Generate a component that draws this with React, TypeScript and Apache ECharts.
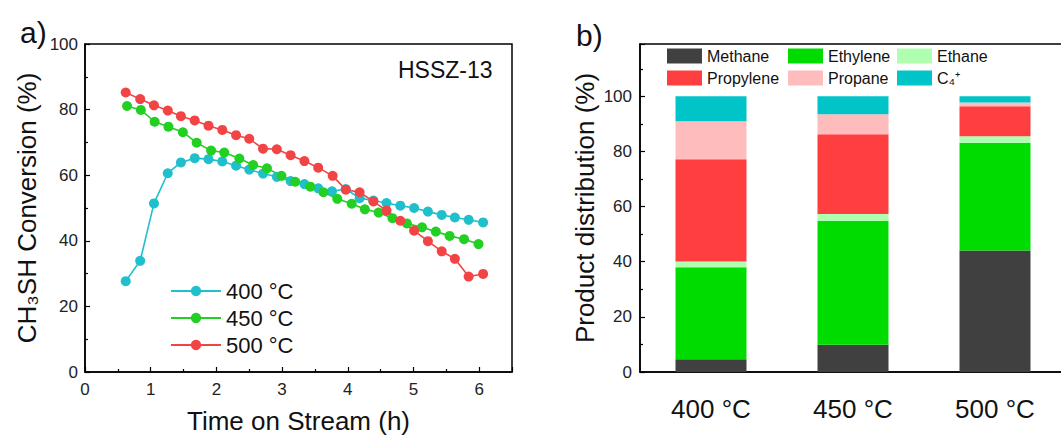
import React, { useEffect, useRef } from "react";
import * as echarts from "echarts";

const times400 = [0.62, 0.84, 1.05, 1.26, 1.46, 1.67, 1.88, 2.09, 2.3, 2.5, 2.71, 2.92, 3.13, 3.34, 3.55, 3.76, 3.97, 4.18, 4.39, 4.59, 4.8, 5.01, 5.22, 5.43, 5.63, 5.84, 6.06];
const conv400 = [27.7, 33.9, 51.4, 60.6, 63.9, 65.2, 64.9, 64.2, 62.9, 61.7, 60.5, 59.5, 58.2, 57.3, 56.0, 55.1, 55.8, 53.0, 52.3, 51.5, 50.7, 50.0, 48.9, 47.9, 47.1, 46.4, 45.6];
const times450 = [0.64, 0.85, 1.06, 1.27, 1.49, 1.7, 1.92, 2.12, 2.35, 2.56, 2.77, 2.99, 3.2, 3.43, 3.63, 3.84, 4.06, 4.26, 4.47, 4.68, 4.9, 5.13, 5.34, 5.55, 5.77, 5.99];
const conv450 = [81.1, 79.9, 76.3, 74.8, 73.1, 69.9, 67.5, 66.9, 65.1, 63.1, 62.1, 59.8, 58.0, 56.5, 54.8, 52.8, 51.3, 49.6, 48.6, 46.9, 45.3, 44.1, 42.8, 41.5, 40.5, 39.0];
const times500 = [0.62, 0.84, 1.05, 1.26, 1.46, 1.67, 1.88, 2.09, 2.3, 2.5, 2.71, 2.92, 3.13, 3.34, 3.55, 3.77, 3.97, 4.18, 4.39, 4.59, 4.8, 5.01, 5.22, 5.43, 5.63, 5.84, 6.06];
const conv500 = [85.2, 83.2, 81.3, 79.7, 78.0, 76.7, 75.1, 73.8, 72.2, 71.1, 68.1, 67.9, 66.1, 64.3, 62.3, 59.8, 55.6, 54.8, 52.0, 49.2, 46.1, 43.1, 39.9, 36.8, 34.5, 29.1, 29.9];

const lineNames = ["400 °C", "450 °C", "500 °C"];

const categories = ["400 °C", "450 °C", "500 °C"];
const methane = [4.6, 9.9, 44.1];
const ethylene = [33.4, 45.0, 39.0];
const ethane = [2.1, 2.4, 2.4];
const propylene = [37.1, 29.0, 10.9];
const propane = [13.8, 7.2, 1.4];
const c4plus = [9.0, 6.5, 2.2];
const productNames = ["Methane", "Ethylene", "Ethane", "Propylene", "Propane", "C₄⁺"];

const FONT = "Liberation Sans, Arial, Helvetica, sans-serif";

const zip = (t: number[], v: number[]) => t.map((x, i) => [x, v[i]]);

export default function App() {
  const ref = useRef<HTMLDivElement>(null);
  useEffect(() => {
    document.body.style.margin = "0";
    if (!ref.current) return;
    const chart = echarts.init(ref.current, null, { renderer: "svg" });
    const axisLine = { show: true, lineStyle: { color: "#000", width: 1.5 } };
    const axisTick = { show: true, inside: true, length: 5, lineStyle: { color: "#000", width: 1.2 } };
    const minorTick = { show: true, splitNumber: 2, length: 3, lineStyle: { color: "#000", width: 1.2 } };
    const tickLabel = { color: "#222", fontSize: 17, fontFamily: FONT };
    const lineColors = ["#1fbfcb", "#22cf22", "#f24444"];
    const lineData = [zip(times400, conv400), zip(times450, conv450), zip(times500, conv500)];
    const barColors = ["#404040", "#00dc00", "#b0ffb0", "#ff3f3f", "#ffbcbc", "#00c4c8"];
    const barData = [methane, ethylene, ethane, propylene, propane, c4plus];
    const legendText = { fontSize: 16, color: "#111", fontFamily: FONT };

    const option: any = {
      animation: false,
      textStyle: { fontFamily: FONT },
      grid: [
        { left: 85, top: 44, width: 427, height: 328, show: true, borderColor: "#000", borderWidth: 1.5, backgroundColor: "transparent", outerBoundsMode: "none", containLabel: false },
        { left: 640, top: 44, width: 426, height: 328, show: true, borderColor: "#000", borderWidth: 1.5, backgroundColor: "transparent", outerBoundsMode: "none", containLabel: false },
      ],
      xAxis: [
        {
          type: "value", gridIndex: 0, min: 0, max: 6.5, interval: 1,
          axisLine, axisTick, minorTick, splitLine: { show: false },
          axisLabel: { ...tickLabel, margin: 9, showMaxLabel: false },
          name: "Time on Stream (h)", nameLocation: "middle", nameGap: 36,
          nameTextStyle: { fontSize: 26, color: "#111", fontFamily: FONT },
        },
        {
          type: "category", gridIndex: 1, data: categories,
          axisLine, axisTick: { show: false },
          axisLabel: { color: "#111", fontSize: 26, fontFamily: FONT, margin: 24 },
        },
      ],
      yAxis: [
        {
          type: "value", gridIndex: 0, min: 0, max: 100, interval: 20,
          axisLine, axisTick, minorTick, splitLine: { show: false },
          axisLabel: { ...tickLabel, margin: 7 },
          name: "CH₃SH Conversion (%)", nameLocation: "middle", nameGap: 45,
          nameTextStyle: { fontSize: 26, color: "#111", fontFamily: FONT },
        },
        {
          type: "value", gridIndex: 1, min: 0, max: 119, interval: 20,
          axisLine, axisTick, minorTick, splitLine: { show: false },
          axisLabel: { ...tickLabel, margin: 8, showMaxLabel: false },
          name: "Product distribution (%)", nameLocation: "middle", nameGap: 42,
          nameTextStyle: { fontSize: 26, color: "#111", fontFamily: FONT },
        },
      ],
      legend: [
        {
          data: lineNames, orient: "vertical", left: 170, top: 280, padding: 0, itemWidth: 50, itemHeight: 13, itemGap: 5,
          textStyle: { fontSize: 22, color: "#111", fontFamily: FONT }, selectedMode: false,
        },
        {
          data: [productNames[0], productNames[3]], orient: "vertical", left: 667, top: 48, padding: 0, itemWidth: 35, itemHeight: 15, itemGap: 6,
          icon: "rect", textStyle: legendText, selectedMode: false,
        },
        {
          data: [productNames[1], productNames[4]], orient: "vertical", left: 788, top: 48, padding: 0, itemWidth: 35, itemHeight: 15, itemGap: 6,
          icon: "rect", textStyle: legendText, selectedMode: false,
        },
        {
          data: [productNames[2], productNames[5]], orient: "vertical", left: 897, top: 48, padding: 0, itemWidth: 35, itemHeight: 15, itemGap: 6,
          icon: "rect", textStyle: legendText, selectedMode: false,
        },
      ],
      graphic: [
        { type: "text", left: 20, top: 17, style: { text: "a)", fontSize: 30, fill: "#111", fontFamily: FONT } },
        { type: "text", left: 576, top: 20, style: { text: "b)", fontSize: 30, fill: "#111", fontFamily: FONT } },
        { type: "text", left: 398, top: 58, style: { text: "HSSZ-13", fontSize: 23, fill: "#111", fontFamily: FONT } },
      ],
      series: [
        ...lineNames.map((n, i) => ({
          type: "line", name: n, xAxisIndex: 0, yAxisIndex: 0, data: lineData[i],
          symbol: "circle", symbolSize: 10, lineStyle: { color: lineColors[i], width: 1.6 },
          itemStyle: { color: lineColors[i] },
        })),
        ...productNames.map((n, i) => ({
          type: "bar", name: n, xAxisIndex: 1, yAxisIndex: 1, stack: "total", data: barData[i],
          barWidth: 71, itemStyle: { color: barColors[i] },
        })),
      ],
    };
    chart.setOption(option);
    return () => chart.dispose();
  }, []);
  return <div ref={ref} style={{ width: 1061, height: 435 }} />;
}
